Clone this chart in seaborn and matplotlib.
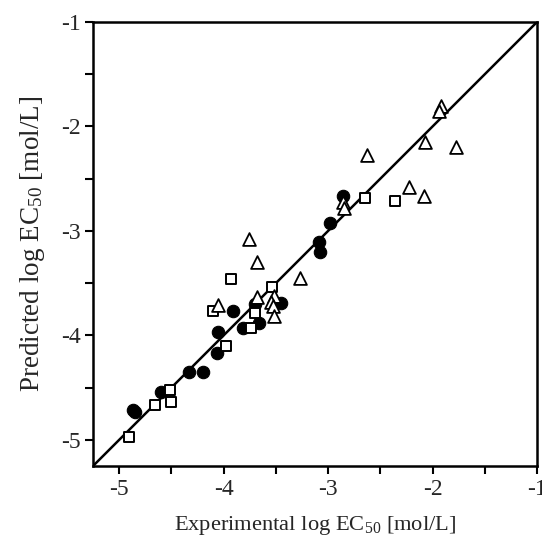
import numpy as np
import pandas as pd
import matplotlib
matplotlib.use("Agg")
import matplotlib.pyplot as plt
from matplotlib.ticker import MultipleLocator
import seaborn as sns

# =============================================================================
# data (experimental, predicted log EC50)
# =============================================================================
circle_x = [-4.87, -4.85, -4.60, -4.33, -4.20, -4.06, -4.05, -3.91, -3.81, -3.70,
            -3.66, -3.45, -3.09, -3.08, -2.98, -2.86]
circle_y = [-4.71, -4.73, -4.54, -4.35, -4.35, -4.17, -3.97, -3.77, -3.93, -3.70,
            -3.88, -3.69, -3.11, -3.20, -2.92, -2.67]

square_x = [-4.91, -4.66, -4.51, -4.50, -3.98, -4.10, -3.93, -3.70, -3.74, -3.54,
            -2.65, -2.36]
square_y = [-4.97, -4.67, -4.52, -4.64, -4.10, -3.77, -3.46, -3.79, -3.93, -3.54,
            -2.68, -2.71]

triangle_x = [-3.76, -3.68, -3.27, -4.05, -3.68, -3.52, -3.55, -3.53, -3.52,
              -1.92, -1.94, -2.07, -1.78, -2.63, -2.23, -2.08, -2.86, -2.85]
triangle_y = [-3.08, -3.30, -3.45, -3.71, -3.63, -3.62, -3.68, -3.72, -3.81,
              -1.80, -1.85, -2.15, -2.20, -2.27, -2.58, -2.67, -2.72, -2.78]

line_ends = [-5.25, -1.0]
tick_values = [-5, -4, -3, -2, -1]

# =============================================================================
# plotting
# =============================================================================
sns.set_style("ticks")
plt.rcParams['font.family'] = ['Liberation Serif', 'DejaVu Serif']
plt.rcParams['mathtext.fontset'] = 'custom'
plt.rcParams['mathtext.rm'] = 'Liberation Serif'
plt.rcParams['mathtext.it'] = 'Liberation Serif:italic'

XLABEL_SIZE = 16.2
YLABEL_SIZE = 19.5
TICK_SIZE = 17

fig, ax = plt.subplots(figsize=(5.42, 5.42), dpi=100)
fig.subplots_adjust(left=0.1716, right=0.9908, top=0.9594, bottom=0.1402)

# identity line
sns.lineplot(x=line_ends, y=line_ends, ax=ax, color='black', linewidth=1.8)

df_c = pd.DataFrame({'exp': circle_x, 'pred': circle_y})
df_s = pd.DataFrame({'exp': square_x, 'pred': square_y})
df_t = pd.DataFrame({'exp': triangle_x, 'pred': triangle_y})

sns.scatterplot(data=df_c, x='exp', y='pred', ax=ax, marker='o', s=80,
                color='black', edgecolor='black', linewidth=0.8, zorder=3)
sns.scatterplot(data=df_s, x='exp', y='pred', ax=ax, marker='s', s=50,
                facecolor='white', edgecolor='black', linewidth=1.4, zorder=3)
sns.scatterplot(data=df_t, x='exp', y='pred', ax=ax, marker='^', s=85,
                facecolor='white', edgecolor='black', linewidth=1.3, zorder=3)

ax.set_xlim(-5.25, -1)
ax.set_ylim(-5.25, -1)
ax.set_xticks(tick_values)
ax.set_yticks(tick_values)
ax.set_xticklabels([str(v) for v in tick_values])
ax.set_yticklabels([str(v) for v in tick_values])
ax.xaxis.set_minor_locator(MultipleLocator(0.5))
ax.yaxis.set_minor_locator(MultipleLocator(0.5))
ax.tick_params(which='both', direction='out', length=5.5, width=1.5,
               labelsize=TICK_SIZE, color='black', top=False, right=False)
ax.tick_params(axis='x', pad=4)
ax.tick_params(axis='y', pad=3.5)

for sp in ax.spines.values():
    sp.set_visible(True)
    sp.set_linewidth(1.8)
    sp.set_color('black')

ax.set_xlabel('Experimental log EC$_{50}$ [mol/L]', fontsize=XLABEL_SIZE, labelpad=10)
ax.set_ylabel('Predicted log EC$_{50}$ [mol/L]', fontsize=YLABEL_SIZE, labelpad=10)

plt.savefig('out.png', dpi=100)
